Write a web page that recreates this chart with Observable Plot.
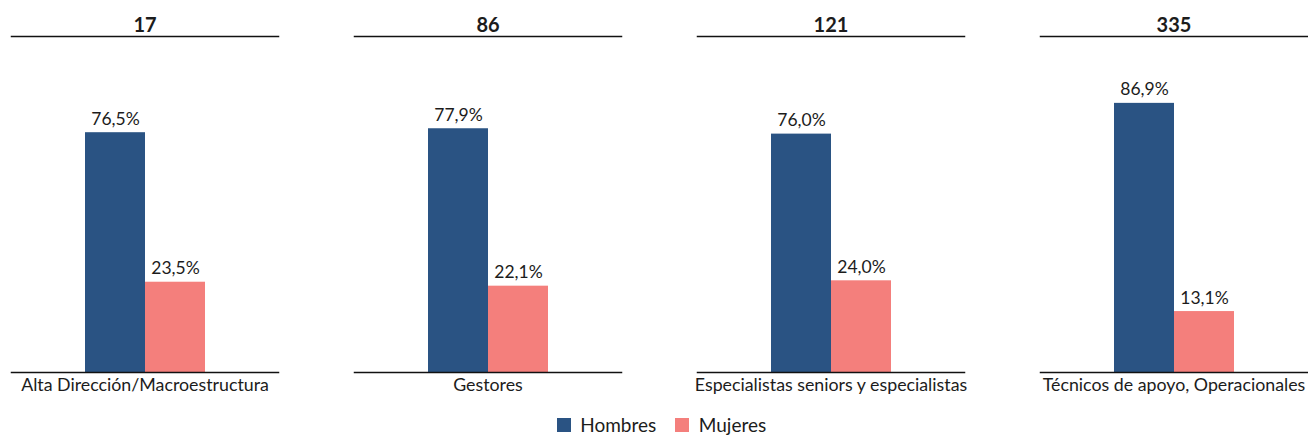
<!DOCTYPE html>
<html>
<head>
<meta charset="utf-8">
<script src="https://cdn.jsdelivr.net/npm/d3@7"></script>
<script src="https://cdn.jsdelivr.net/npm/@observablehq/plot@0.6"></script>
<style>
  html, body { margin: 0; padding: 0; background: #fff; overflow: hidden; }
  #chart svg { display: block; }
  #legend { padding-left: 34px; margin-top: 6px; }
</style>
</head>
<body>
<div id="chart"></div>
<div id="legend"></div>
<script>
// ---- data ----
const CATEGORIES = [
  "Alta Dirección/Macroestructura",
  "Gestores",
  "Especialistas seniors y especialistas",
  "Técnicos de apoyo, Operacionales"
];
const COUNTS = [17, 86, 121, 335];
const SERIES = ["Hombres", "Mujeres"];
const HOMBRES = [76.5, 77.9, 76.0, 86.9];
const MUJERES = [23.5, 22.1, 24.0, 13.1];

// ---- styling / scale config ----
const COLORS = ["#2a5383", "#f47f7c"];
const Y_DOMAIN = [-8.5, 110.6];
const FONT = "Lato, 'Noto Sans', sans-serif";
const TEXT_COLOR = "#1c1c1c";

const rows = [];
CATEGORIES.forEach((c, i) => {
  rows.push({cat: c, sex: SERIES[0], value: HOMBRES[i]});
  rows.push({cat: c, sex: SERIES[1], value: MUJERES[i]});
});
const countRows = CATEGORIES.map((c, i) => ({cat: c, n: COUNTS[i]}));
const fmt = v => v.toFixed(1).replace(".", ",") + "%";

const chart = Plot.plot({
  width: 1308,
  height: 402,
  marginLeft: 10,
  marginRight: 0,
  marginTop: 36,
  marginBottom: 30,
  style: {fontFamily: FONT, color: TEXT_COLOR, background: "#fff"},
  fx: {domain: CATEGORIES, paddingInner: 0.221, paddingOuter: 0, label: null},
  x: {domain: SERIES, paddingInner: 0, paddingOuter: 1.2, axis: null},
  y: {domain: Y_DOMAIN, axis: null},
  color: {domain: SERIES, range: COLORS},
  marks: [
    Plot.barY(rows, {fx: "cat", x: "sex", y1: () => Y_DOMAIN[0], y2: "value", fill: "sex", inset: 0}),
    Plot.text(rows, {fx: "cat", x: "sex", y: "value", text: d => fmt(d.value), lineAnchor: "bottom", dy: -8, fontSize: 17.5, fill: TEXT_COLOR}),
    Plot.text(countRows, {fx: "cat", text: "n", frameAnchor: "top", dy: -19, fontSize: 20, fontWeight: "bold", fill: TEXT_COLOR}),
    Plot.frame({anchor: "top", stroke: "#111", strokeWidth: 1.5}),
    Plot.frame({anchor: "bottom", stroke: "#111", strokeWidth: 1.5}),
    Plot.axisFx({anchor: "bottom", tickSize: 0, tickPadding: 6, label: null, fontSize: 17.8, fill: TEXT_COLOR})
  ]
});
document.getElementById("chart").appendChild(chart);

const legend = chart.legend("color", {
  legend: "swatches",
  swatchSize: 14,
  style: {fontFamily: FONT, fontSize: "19px", color: TEXT_COLOR, justifyContent: "center", marginLeft: "0px"}
});
document.getElementById("legend").appendChild(legend);
</script>
</body>
</html>
